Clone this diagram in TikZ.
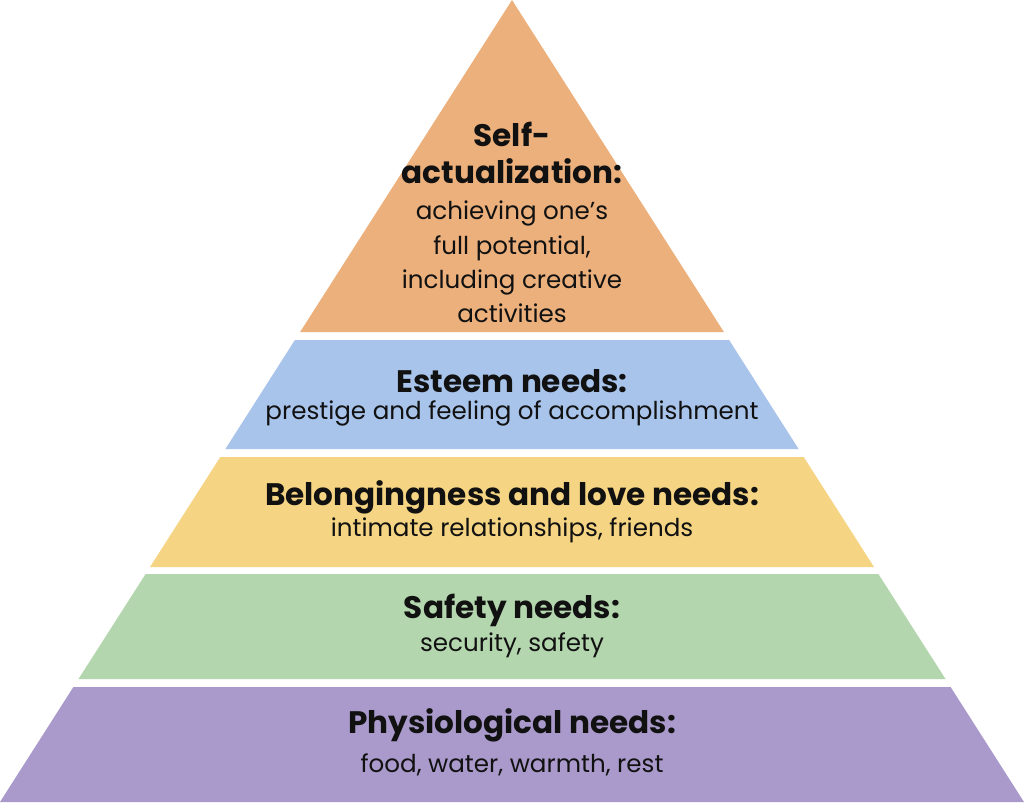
\documentclass[tikz,border=0pt]{standalone}
\usepackage{fontspec}
\setmainfont{Poppins}
\definecolor{cOrange}{HTML}{ECB07C}
\definecolor{cBlue}{HTML}{A8C4EB}
\definecolor{cYellow}{HTML}{F5D583}
\definecolor{cGreen}{HTML}{B4D6AE}
\definecolor{cPurple}{HTML}{A99ACB}
\definecolor{cText}{HTML}{111111}
\begin{document}
\begin{tikzpicture}[x=0.02cm,y=-0.02cm,
  ttl/.style={text=cText,font=\fontsize{17.7}{21}\selectfont\bfseries,inner sep=0pt,align=center},
  sub/.style={text=cText,font=\fontsize{14}{19.5}\selectfont,inner sep=0pt,align=center}]
\useasboundingbox[fill=white] (0,0) rectangle (1024,802);
\fill[cOrange] (512,0) -- (723.9,332) -- (300.1,332) -- cycle;
\fill[cBlue] (294.9,340) -- (729.1,340) -- (798.6,449) -- (225.4,449) -- cycle;
\fill[cYellow] (220.3,457) -- (803.7,457) -- (874,567) -- (150,567) -- cycle;
\fill[cGreen] (145.6,574) -- (878.4,574) -- (945.5,679) -- (78.5,679) -- cycle;
\fill[cPurple] (73.4,687) -- (950.6,687) -- (1024,802) -- (0,802) -- cycle;
\node[ttl] (t1) at (512,153) {Self-\\actualization:};
\node[sub] (s1) at (512,262) {achieving one’s\\full potential,\\including creative\\activities};
\node[ttl] (t2) at (512,381) {Esteem needs:};
\node[sub] (s2) at (512,413) {prestige and feeling of accomplishment};
\node[ttl] (t3) at (512,497) {Belongingness and love needs:};
\node[sub] (s3) at (512,530) {intimate relationships, friends};
\node[ttl] (t4) at (512,610) {Safety needs:};
\node[sub] (s4) at (512,645) {security, safety};
\node[ttl] (t5) at (512,725) {Physiological needs:};
\node[sub] (s5) at (512,765) {food, water, warmth, rest};
\end{tikzpicture}
\end{document}
